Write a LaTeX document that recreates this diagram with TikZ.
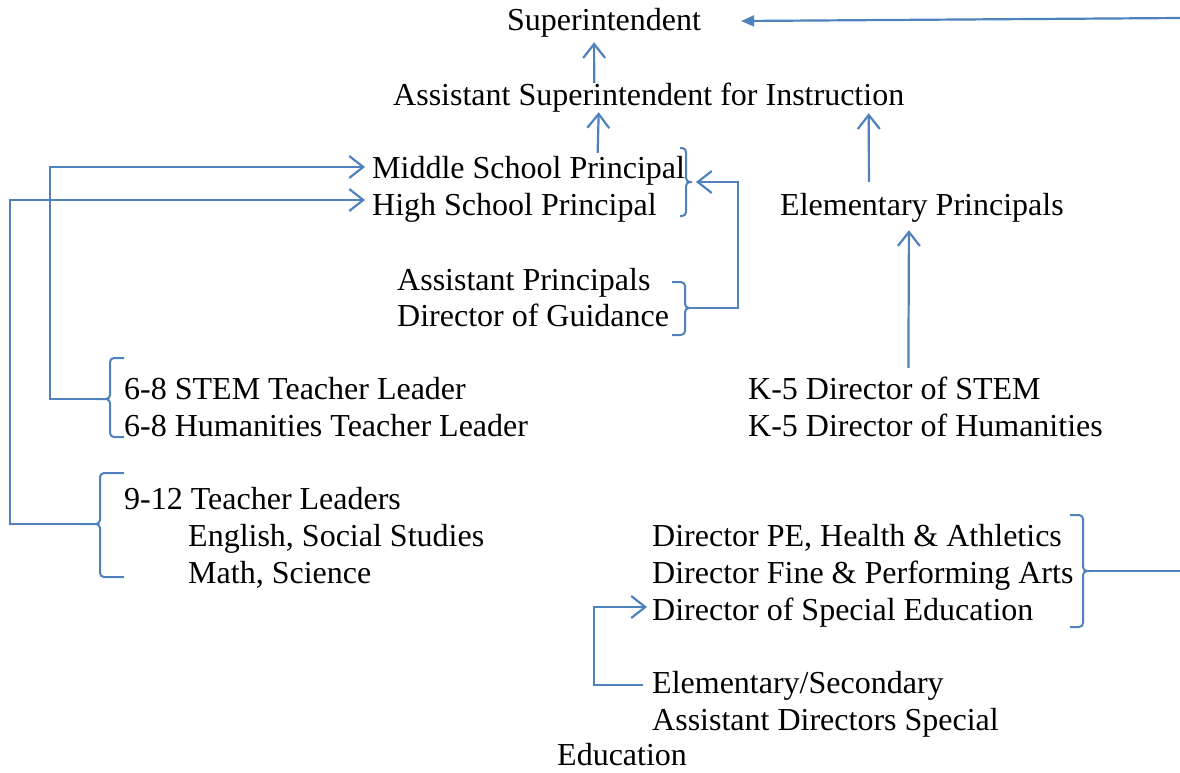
\documentclass[tikz,border=0pt]{standalone}
\usepackage{fontspec}
\setmainfont{Liberation Serif}
\usepackage{tikz}
\usetikzlibrary{arrows.meta}
\definecolor{orgBlue}{RGB}{79, 129, 189}

\begin{document}
\begin{tikzpicture}[
        x=1pt, y=-1pt,
        role/.style={
            anchor=base west, inner sep=0pt,
            text height=22pt, text depth=0pt,
            font=\fontsize{32}{37}\selectfont
        },
        bracket/.style={draw=orgBlue, line width=2pt, rounded corners=4pt},
        link/.style={draw=orgBlue, line width=2.2pt},
        linkarr/.style={link, -{Straight Barb[length=14pt, width=22pt]}},
        toparr/.style={link, -{Triangle[length=13pt, width=11pt]}}
    ]
    \useasboundingbox (0,0) rectangle (1180,772);

    % TOP OF THE CHART
    \node[role] (sup) at (507,30)  {Superintendent};
    \node[role] (asi) at (393,105) {Assistant Superintendent for Instruction};

    % PRINCIPALS
    \node[role] (msp) at (372,178) {Middle School Principal};
    \node[role] (hsp) at (372,215) {High School Principal};
    \node[role] (elp) at (780,215) {Elementary Principals};
    \node[role] (ap)  at (397,290) {Assistant Principals};
    \node[role] (dog) at (397,326) {Director of Guidance};

    % TEACHER LEADERS AND K-5 DIRECTORS
    \node[role] (s68) at (124,399) {6-8 STEM Teacher Leader};
    \node[role] (h68) at (124,436) {6-8 Humanities Teacher Leader};
    \node[role] (k5s) at (748,399) {K-5 Director of STEM};
    \node[role] (k5h) at (748,436) {K-5 Director of Humanities};
    \node[role] (tl)  at (124,509) {9-12 Teacher Leaders};
    \node[role] (eng) at (188,546) {English, Social Studies};
    \node[role] (mth) at (188,583) {Math, Science};

    % DISTRICT DIRECTORS
    \node[role] (dpe) at (652,546) {Director PE, Health \& Athletics};
    \node[role] (dfa) at (652,583) {Director Fine \& Performing Arts};
    \node[role] (dse) at (652,620) {Director of Special Education};
    \node[role] (esa) at (652,693) {Elementary/Secondary};
    \node[role] (asd) at (652,730) {Assistant Directors Special};
    \node[role] (edu) at (557,765) {Education};

    % BRACKETS
    \coordinate (bmh)  at (692,182);
    \coordinate (bapd) at (690,308);
    \coordinate (b68)  at (96,399);
    \coordinate (b912) at (80,524);
    \coordinate (bdir) at (1090,571);
    \draw[bracket] (680,148) -- (686,148) -- (686,182) -- (bmh)
                   (bmh) -- (686,182) -- (686,216) -- (680,216);
    \draw[bracket] (672,282) -- (685,282) -- (685,308) -- (bapd)
                   (bapd) -- (685,308) -- (685,335) -- (672,335);
    \draw[bracket] (124,358) -- (110,358) -- (110,399) -- (b68)
                   (b68) -- (110,399) -- (110,437) -- (124,437);
    \draw[bracket] (124,473) -- (100,473) -- (100,524) -- (b912)
                   (b912) -- (100,524) -- (100,577) -- (124,577);
    \draw[bracket] (1070,515) -- (1083,515) -- (1083,571) -- (bdir)
                   (bdir) -- (1083,571) -- (1083,627) -- (1070,627);

    % FREE ENDS AT THE RIGHT EDGE
    \coordinate (rtop) at (1180,18);
    \coordinate (rdir) at (1180,571);

    % CONNECTORS
    \draw[toparr] (rtop) -- ([xshift=40pt, yshift=-2pt]sup.east);
    \draw[link] (bdir) -- (rdir);
    \draw[linkarr] ([xshift=-54.5pt]asi.north) -- ([xshift=-10pt, yshift=-12pt]sup.south);
    \draw[linkarr] ([xshift=69pt, yshift=3pt]msp.north) -- ([xshift=-50pt, yshift=-7pt]asi.south);
    \draw[linkarr] ([xshift=-53pt, yshift=11pt]elp.north) -- ([xshift=220pt, yshift=-8pt]asi.south);
    \draw[linkarr] ([xshift=14pt, yshift=9pt]k5s.north) -- ([xshift=-13pt, yshift=-15pt]elp.south);
    \draw[linkarr] (bapd) -- ++(48,0) |- ([xshift=4pt]bmh);
    \draw[linkarr] (b68) -- ++(-46,0) |- ([xshift=-7pt]msp.west);
    \draw[linkarr] (b912) -- ++(-70,0) |- ([xshift=-7pt, yshift=4pt]hsp.west);
    \draw[linkarr] ([xshift=-9pt, yshift=-3pt]esa.west) -- ++(-49,0) |- ([xshift=-5pt, yshift=2pt]dse.west);

\end{tikzpicture}
\end{document}
